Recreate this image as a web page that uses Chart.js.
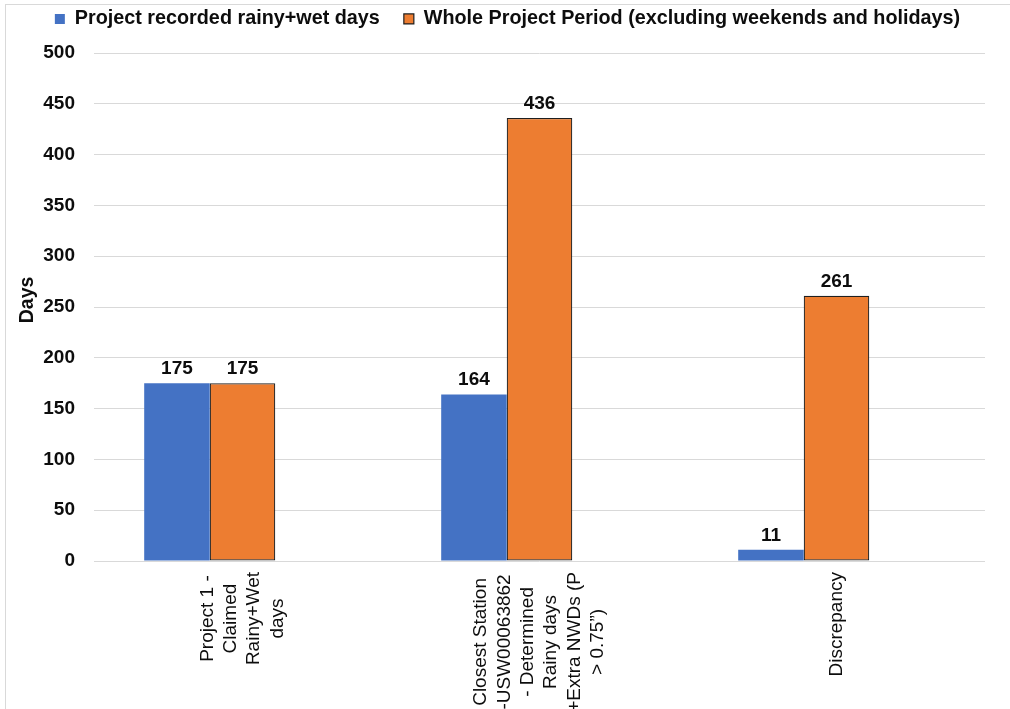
<!DOCTYPE html>
<html>
<head>
<meta charset="utf-8">
<script src="https://cdn.jsdelivr.net/npm/chart.js@4/dist/chart.umd.min.js"></script>
<style>
  html, body { margin: 0; padding: 0; background: #ffffff; }
  #wrap { position: relative; width: 1010px; height: 709px; overflow: hidden; }
  #frame { position: absolute; left: 5px; top: 4px; right: -2px; bottom: -2px;
           border-top: 1px solid #d9d9d9; border-left: 1px solid #d9d9d9; pointer-events: none; }
  canvas { display: block; }
</style>
</head>
<body>
<div id="wrap">
  <canvas id="chart" width="1010" height="709"></canvas>
  <div id="frame"></div>
</div>
<script>
// Category labels, already broken into lines
const categories = [
  ['Project 1 -', 'Claimed', 'Rainy+Wet', 'days'],
  ['Closest Station', '-USW00063862', '- Determined', 'Rainy days', '+Extra NWDs (P', '> 0.75\u201D)'],
  ['Discrepancy']
];
const seriesNames = [
  'Project recorded rainy+wet days',
  'Whole Project Period (excluding weekends and holidays)'
];
const recordedDays = [175, 164, 11];
const wholePeriodDays = [175, 436, 261];
// third (empty) series of the original workbook; it only reserves its slot in each group
const emptySeries = [null, null, null];

const FONT = '"Liberation Sans", Arial, Helvetica, sans-serif';
const TEXT = '#0d0d0d';

// Value labels above every bar
const valueLabels = {
  id: 'valueLabels',
  afterDatasetsDraw(chart) {
    const ctx = chart.ctx;
    ctx.save();
    ctx.font = 'bold 19px ' + FONT;
    ctx.fillStyle = TEXT;
    ctx.textAlign = 'center';
    ctx.textBaseline = 'alphabetic';
    chart.data.datasets.forEach((ds, di) => {
      if (!ds.label) return;
      chart.getDatasetMeta(di).data.forEach((bar, i) => {
        const v = ds.data[i];
        if (v === null || v === undefined) return;
        ctx.fillText(String(v), bar.x, bar.y - 9);
      });
    });
    ctx.restore();
  }
};

// Rotated, centre-aligned multi-line category labels under the axis
const categoryLabels = {
  id: 'categoryLabels',
  afterDraw(chart) {
    const ctx = chart.ctx;
    const xs = chart.scales.x;
    const top = chart.chartArea.bottom + 11;
    const lineGap = 23.3;
    ctx.save();
    ctx.font = '19px ' + FONT;
    ctx.fillStyle = TEXT;
    ctx.textAlign = 'center';
    ctx.textBaseline = 'middle';
    categories.forEach((lines, i) => {
      const cx = xs.getPixelForValue(i);
      const longest = Math.max(...lines.map(l => ctx.measureText(l).width));
      const cy = top + longest / 2;
      lines.forEach((line, j) => {
        const lx = cx + (j - (lines.length - 1) / 2) * lineGap;
        ctx.save();
        ctx.translate(lx, cy);
        ctx.rotate(-Math.PI / 2);
        ctx.fillText(line, 0, 0);
        ctx.restore();
      });
    });
    ctx.restore();
  }
};

new Chart(document.getElementById('chart'), {
  type: 'bar',
  data: {
    labels: categories,
    datasets: [
      { label: seriesNames[0], data: recordedDays, backgroundColor: '#4472C4', borderWidth: 0 },
      { label: seriesNames[1], data: wholePeriodDays, backgroundColor: '#ED7D31',
        borderColor: '#1f1f1f', borderWidth: 1.2, borderSkipped: false },
      { label: '', data: emptySeries, backgroundColor: 'rgba(0,0,0,0)' }
    ]
  },
  options: {
    responsive: false,
    animation: false,
    devicePixelRatio: 1,
    categoryPercentage: 0.662,
    barPercentage: 1,
    layout: { padding: { top: -15, left: 30, right: 25, bottom: 148 } },
    plugins: {
      tooltip: { enabled: false },
      legend: {
        position: 'top',
        labels: {
          filter: item => item.text !== '',
          boxWidth: 10,
          boxHeight: 10,
          padding: 24,
          color: TEXT,
          font: { family: FONT, size: 19.8, weight: 'bold' }
        }
      }
    },
    scales: {
      x: {
        display: false
      },
      y: {
        min: 0,
        max: 514,
        border: { display: false },
        grid: { color: '#d9d9d9', lineWidth: 1, drawTicks: false },
        ticks: {
          stepSize: 50,
          includeBounds: false,
          padding: 19,
          color: TEXT,
          font: { family: FONT, size: 19, weight: 'bold' }
        },
        title: {
          display: true,
          text: 'Days',
          color: TEXT,
          padding: { top: -13.7, bottom: 0 },
          font: { family: FONT, size: 19.5, weight: 'bold' }
        },
        afterFit(scale) { scale.width = 64; }
      }
    }
  },
  plugins: [valueLabels, categoryLabels]
});
</script>
</body>
</html>
